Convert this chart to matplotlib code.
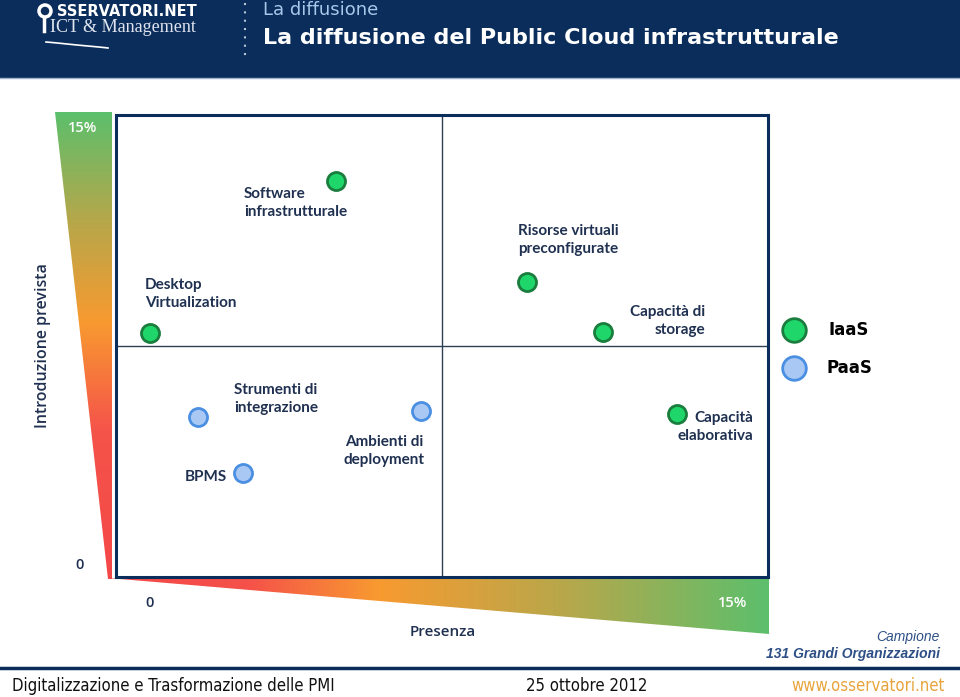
import numpy as np
import matplotlib.pyplot as plt
from matplotlib.patches import Polygon, Rectangle, Circle
from matplotlib.colors import LinearSegmentedColormap

# data (% values)
iaas_names = ["Software\ninfrastrutturale", "Desktop\nVirtualization",
              "Risorse virtuali\npreconfigurate", "Capacità di\nstorage",
              "Capacità\nelaborativa"]
iaas_x = [5.06, 0.78, 9.46, 11.2, 12.9]
iaas_y = [12.86, 7.92, 9.58, 7.95, 5.29]

paas_names = ["Strumenti di\nintegrazione", "BPMS", "Ambienti di\ndeployment"]
paas_x = [1.89, 2.92, 7.02]
paas_y = [5.19, 3.38, 5.39]

# label offsets in pixels and alignment
iaas_off = [(-92, -22, "left"), (-5, 39, "left"), (41, 42, "center"),
            (102, 11, "right"), (77, -13, "right")]
paas_off = [(36, 18, "left"), (-16, -4, "right"), (-37, -40, "center")]

navy = "#0b2d5b"
txt = "#1f3050"
green_f, green_e = "#1fd66b", "#1b7d3d"
blue_f, blue_e = "#a9c8f4", "#4a8fe2"

fig = plt.figure(figsize=(9.6, 6.97), dpi=100)
bg = fig.add_axes([0, 0, 1, 1])
bg.set_xlim(0, 960)
bg.set_ylim(697, 0)
bg.axis("off")

# header
bg.add_patch(Rectangle((0, 0), 960, 77, color=navy, zorder=1))
bg.plot([0, 960], [78, 78], color="#9fb3cc", lw=1, zorder=1)
bg.add_patch(Circle((45, 11), 6, fill=False, ec="white", lw=2.5, zorder=2))
bg.plot([44, 44], [17, 31], color="white", lw=2.5, zorder=2)
sx = np.linspace(46, 108, 30)
bg.plot(sx, 42 + 6 * ((sx - 46) / 62) ** 2 + 1.5 * np.sin((sx - 46) / 62 * np.pi),
        color="white", lw=1.2, zorder=2)
bg.text(57, 11, "SSERVATORI.NET", color="white", fontsize=10.5, fontweight="bold",
        va="center", ha="left", family="DejaVu Sans", zorder=3)
bg.text(50, 28, "ICT & Management", color="#dfe4ee", fontsize=13, va="center",
        ha="left", family="Liberation Serif", zorder=3)
bg.plot([245, 245], [3, 60], color="#b8c6d8", lw=1.5, ls=(0, (1, 3)), zorder=2)
bg.text(263, 10, "La diffusione", color="#a8c8ea", fontsize=13, va="center", ha="left", zorder=3)
bg.text(263, 38, "La diffusione del Public Cloud infrastrutturale", color="white",
        fontsize=16, fontweight="bold", va="center", ha="left", zorder=3)

# gradient wedges
def make_cmap(stops):
    return LinearSegmentedColormap.from_list("g", stops)

left_cmap = make_cmap([(0, "#f44848"), (0.32, "#f5544a"), (0.55, "#f89a30"),
                       (0.78, "#b2a84c"), (1, "#5cbf6c")])
grad = np.linspace(1, 0, 256).reshape(-1, 1)
im = bg.imshow(grad, cmap=left_cmap, extent=(50, 115, 579, 112), aspect="auto", zorder=1)
tri = Polygon([(55, 112), (112, 112), (112, 579), (108, 579)], closed=True, fc="none", ec="none")
bg.add_patch(tri)
im.set_clip_path(tri)

bot_cmap = make_cmap([(0, "#f44848"), (0.21, "#f5504a"), (0.41, "#f89a30"),
                      (0.7, "#b5a84c"), (1, "#5cbf6c")])
grad2 = np.linspace(0, 1, 256).reshape(1, -1)
im2 = bg.imshow(grad2, cmap=bot_cmap, extent=(106, 770, 635, 577), aspect="auto", zorder=1)
tri2 = Polygon([(108, 578), (769, 578), (769, 634)], closed=True, fc="none", ec="none")
bg.add_patch(tri2)
im2.set_clip_path(tri2)

# axis annotations
bg.text(83, 128, "15%", color="white", fontsize=10.5, ha="center", va="center",
        family="Open Sans", fontweight="semibold", zorder=3)
bg.text(80, 565, "0", color=txt, fontsize=10.5, ha="center", va="center",
        family="Open Sans", fontweight="semibold", zorder=3)
bg.text(43, 346, "Introduzione prevista", color=txt, fontsize=11.5, rotation=90,
        ha="center", va="center", family="Open Sans", fontweight="semibold", zorder=3)
bg.text(150, 603, "0", color=txt, fontsize=10.5, ha="center", va="center",
        family="Open Sans", fontweight="semibold", zorder=3)
bg.text(733, 603, "15%", color="white", fontsize=10.5, ha="center", va="center",
        family="Open Sans", fontweight="semibold", zorder=3)
bg.text(443, 632, "Presenza", color=txt, fontsize=11, ha="center", va="center",
        family="Open Sans", fontweight="semibold", zorder=3)

bg.text(940, 637, "Campione", color="#2d4f85", fontsize=10, style="italic", ha="right",
        va="center", family="Liberation Sans", zorder=3)
bg.text(940, 654, "131 Grandi Organizzazioni", color="#2d4f85", fontsize=10, style="italic",
        fontweight="bold", ha="right", va="center", family="Liberation Sans", zorder=3)

# footer
bg.plot([0, 960], [668, 668], color=navy, lw=2.5, zorder=2)
bg.text(12, 686, "Digitalizzazione e Trasformazione delle PMI", color="#111111", fontsize=12,
        ha="left", va="center", fontstretch="condensed", zorder=3)
bg.text(587, 686, "25 ottobre 2012", color="#111111", fontsize=12, ha="center", va="center",
        fontstretch="condensed", zorder=3)
bg.text(945, 686, "www.osservatori.net", color="#e8a43c", fontsize=12, ha="right", va="center",
        fontstretch="condensed", zorder=3)

# legend
bg.plot([794], [330], "o", ms=17, mfc=green_f, mec=green_e, mew=2, zorder=3)
bg.plot([794], [368], "o", ms=17, mfc=blue_f, mec=blue_e, mew=2, zorder=3)
bg.text(829, 330, "IaaS", fontsize=12, fontweight="bold", ha="left", va="center", zorder=3)
bg.text(826, 368, "PaaS", fontsize=12, fontweight="bold", ha="left", va="center", zorder=3)

# quadrant chart
ax = fig.add_axes([116 / 960, 1 - 577 / 697, 652 / 960, 462 / 697], zorder=2)
ax.set_xlim(0, 15)
ax.set_ylim(0, 15)
ax.set_xticks([])
ax.set_yticks([])
for s in ax.spines.values():
    s.set_color(navy)
    s.set_linewidth(2.2)
ax.axvline(7.5, color="#2d3e55", lw=1)
ax.axhline(7.5, color="#2d3e55", lw=1)

ax.plot(iaas_x, iaas_y, "o", ms=13, mfc=green_f, mec=green_e, mew=2, ls="none", zorder=3)
ax.plot(paas_x, paas_y, "o", ms=13, mfc=blue_f, mec=blue_e, mew=2, ls="none", zorder=3)

for names, xs, ys, offs in [(iaas_names, iaas_x, iaas_y, iaas_off),
                             (paas_names, paas_x, paas_y, paas_off)]:
    for n, x, y, (dx, dy, ha) in zip(names, xs, ys, offs):
        ax.annotate(n, (x, y), xytext=(dx, dy), textcoords="offset pixels", ha=ha,
                    va="center", multialignment=ha, color=txt, fontsize=11,
                    fontweight="bold", family="Lato", linespacing=1.4)

fig.savefig("out.png", dpi=100)
